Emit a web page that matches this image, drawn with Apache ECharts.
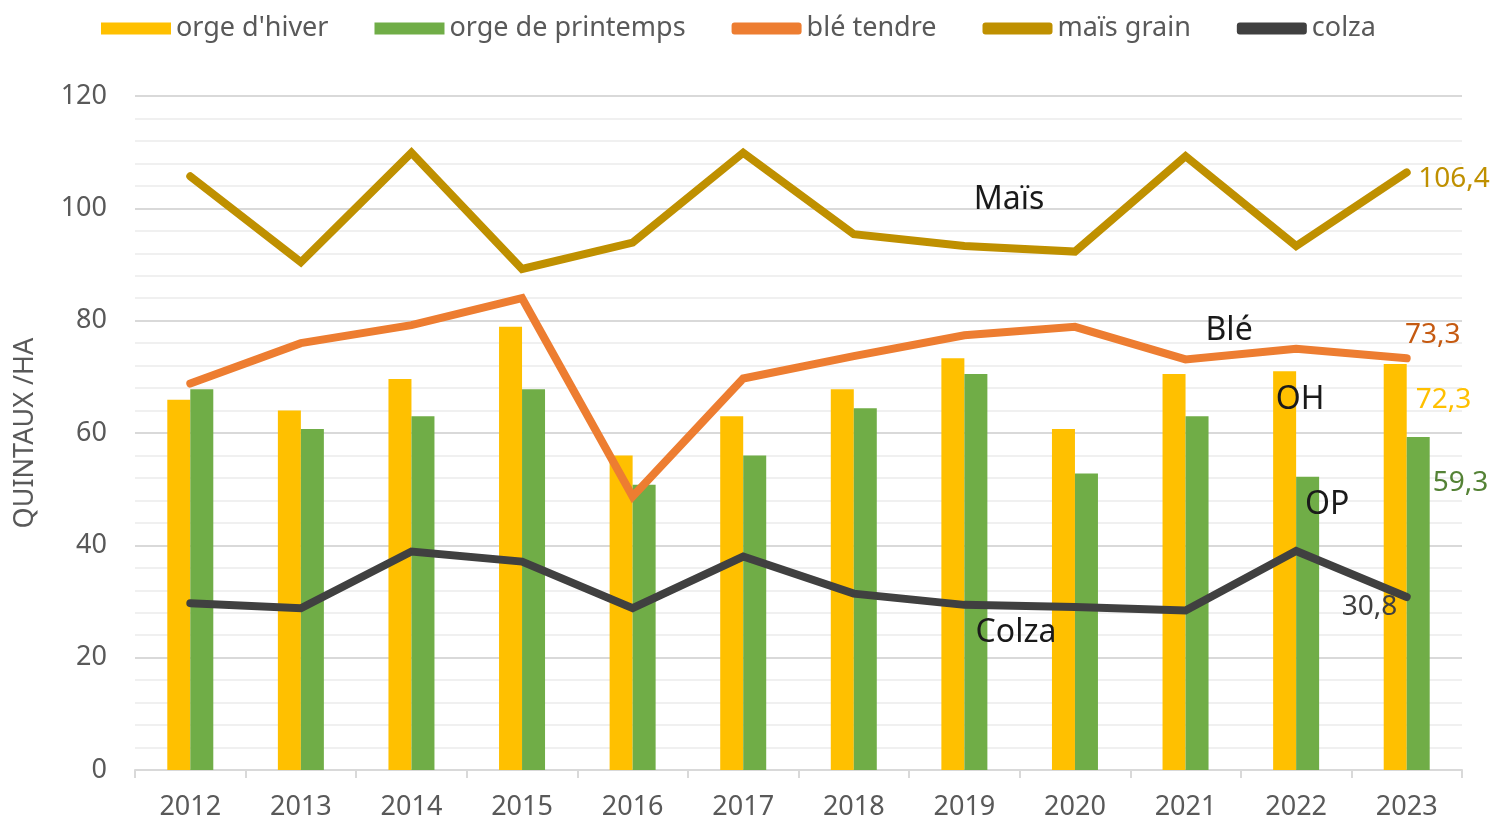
<!DOCTYPE html>
<html>
<head>
<meta charset="utf-8">
<script src="https://cdn.jsdelivr.net/npm/echarts@6/dist/echarts.min.js"></script>
<style>
  html, body { margin: 0; padding: 0; background: #fff; }
  #chart { width: 1495px; height: 824px; }
</style>
</head>
<body>
<div id="chart"></div>
<script>
// rendements (quintaux / ha)
const years = ['2012', '2013', '2014', '2015', '2016', '2017', '2018', '2019', '2020', '2021', '2022', '2023']
const orgeHiver = [65.9, 64.0, 69.6, 78.9, 56.0, 63.0, 67.8, 73.3, 60.7, 70.5, 71.0, 72.3]
const orgePrintemps = [67.8, 60.7, 63.0, 67.8, 50.8, 56.0, 64.4, 70.5, 52.8, 63.0, 52.2, 59.3]
const bleTendre = [68.8, 76.0, 79.2, 84.0, 48.7, 69.7, 73.7, 77.4, 78.9, 73.1, 75.0, 73.3]
const maisGrain = [105.7, 90.4, 109.9, 89.2, 93.9, 109.9, 95.4, 93.3, 92.3, 109.3, 93.3, 106.4]
const colza = [29.7, 28.8, 38.9, 37.1, 28.8, 38.0, 31.4, 29.4, 29.0, 28.4, 39.0, 30.8]
const yTicks = [0, 20, 40, 60, 80, 100, 120]

const FONT = '"Noto Sans", "Open Sans", sans-serif'
const last = years.length - 1

// virgule décimale
const fr = p => String(p.value).replace('.', ',')

// ajoute un label sur certains points seulement
const withLabels = (values, labels) => values.map((v, i) => labels[i] ? { value: v, label: labels[i] } : v)

const valueLabel = (color, extra) => Object.assign({
    show: true, formatter: fr, color: color, fontSize: 28, fontFamily: FONT
}, extra)

const nameLabel = (text, extra) => Object.assign({
    show: true, formatter: text, color: '#1a1a1a', fontSize: 32, fontFamily: FONT
}, extra)

const lineBase = (name, color, data) => ({
    name: name,
    type: 'line',
    data: data,
    symbol: 'circle',
    symbolSize: 1,
    showSymbol: true,
    lineStyle: { color: color, width: 8, cap: 'round', join: 'miter' },
    itemStyle: { color: color },
    z: 5
})

const chart = echarts.init(document.getElementById('chart'))

const option = {
    animation: false,
    backgroundColor: '#fff',
    textStyle: { fontFamily: FONT },
    legend: {
        top: 10,
        left: 96,
        itemWidth: 70,
        itemHeight: 12,
        itemGap: 46,
        textStyle: { color: '#595959', fontSize: 27, fontFamily: FONT },
        data: [
            { name: "orge d'hiver", icon: 'rect' },
            { name: 'orge de printemps', icon: 'rect' },
            { name: 'blé tendre', icon: 'roundRect' },
            { name: 'maïs grain', icon: 'roundRect' },
            { name: 'colza', icon: 'roundRect' }
        ]
    },
    grid: {
        left: 135,
        right: 33,
        top: 96,
        bottom: 54
    },
    xAxis: {
        type: 'category',
        data: years,
        axisLine: { lineStyle: { color: '#D9D9D9', width: 2 } },
        axisTick: { show: true, length: 8, lineStyle: { color: '#D9D9D9', width: 2 } },
        axisLabel: { color: '#595959', fontSize: 27, fontFamily: FONT, margin: 24 }
    },
    yAxis: {
        type: 'value',
        min: yTicks[0],
        max: yTicks[yTicks.length - 1],
        interval: 20,
        name: 'QUINTAUX /HA',
        nameLocation: 'middle',
        nameGap: 96,
        nameTextStyle: { color: '#595959', fontSize: 27, fontFamily: FONT },
        axisLine: { show: false },
        axisTick: { show: false },
        axisLabel: { color: '#595959', fontSize: 27, fontFamily: FONT, margin: 28 },
        splitLine: { lineStyle: { color: '#D9D9D9', width: 2 } },
        minorTick: { show: false, splitNumber: 5 },
        minorSplitLine: { show: true, lineStyle: { color: '#F0F0F0', width: 2 } }
    },
    series: [
        {
            name: "orge d'hiver",
            type: 'bar',
            barWidth: 23,
            barGap: '0%',
            itemStyle: { color: '#FFC000' },
            data: withLabels(orgeHiver, {
                10: nameLabel('OH', { position: [27, 29], align: 'center', verticalAlign: 'middle' }),
                [last]: valueLabel('#FFC000', { position: [32, 22], align: 'left', verticalAlign: 'top' })
            })
        },
        {
            name: 'orge de printemps',
            type: 'bar',
            barWidth: 23,
            barGap: '0%',
            itemStyle: { color: '#70AD47' },
            data: withLabels(orgePrintemps, {
                10: nameLabel('OP', { position: [31, 28], align: 'center', verticalAlign: 'middle' }),
                [last]: valueLabel('#548235', { position: [26, 32], align: 'left', verticalAlign: 'top' })
            })
        },
        lineBase('blé tendre', '#ED7D31', withLabels(bleTendre, {
            10: nameLabel('Blé', { position: 'top', offset: [-67, 4] }),
            [last]: valueLabel('#C55A11', { position: 'top', offset: [26, -4] })
        })),
        lineBase('maïs grain', '#BF9000', withLabels(maisGrain, {
            8: nameLabel('Maïs', { position: 'top', offset: [-66, -30] }),
            [last]: valueLabel('#BF9000', { position: 'right', offset: [6, 7] })
        })),
        lineBase('colza', '#404040', withLabels(colza, {
            8: nameLabel('Colza', { position: 'bottom', offset: [-59, 4] }),
            [last]: valueLabel('#404040', { position: 'left', offset: [-4, 10] })
        }))
    ]
}

chart.setOption(option)
</script>
</body>
</html>
